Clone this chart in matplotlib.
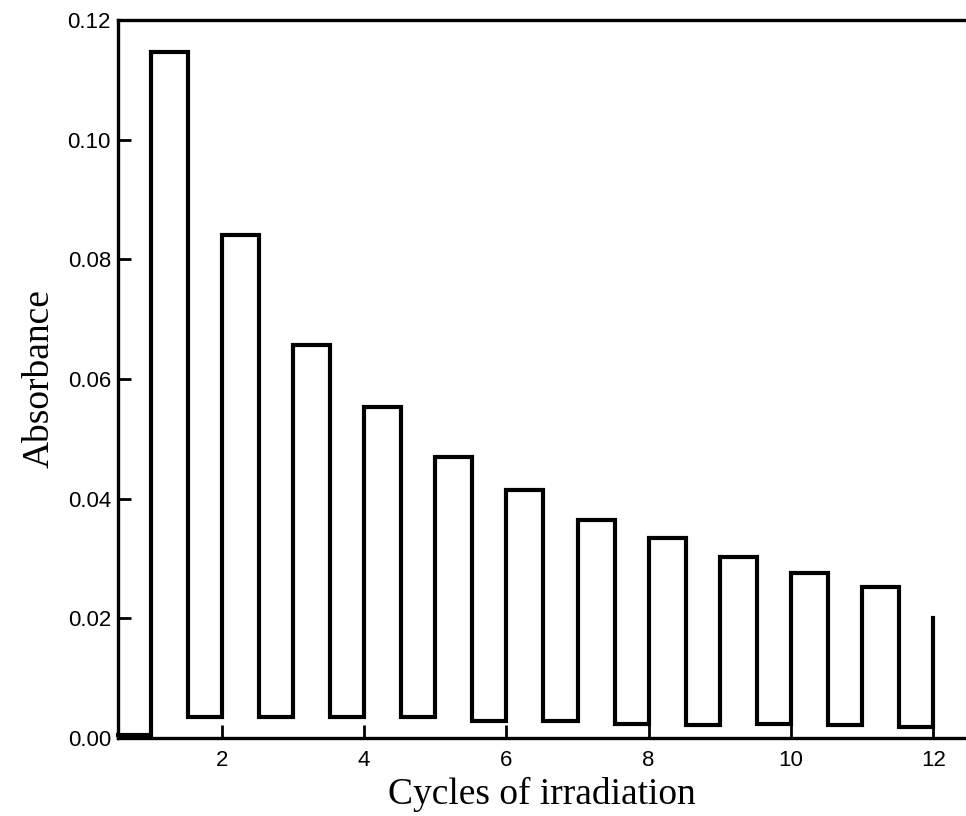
import matplotlib
matplotlib.use("Agg")
import matplotlib.pyplot as plt
import numpy as np

# Absorbance during alternating dark / irradiation phases
cycle_start = [1, 2, 3, 4, 5, 6, 7, 8, 9, 10, 11]
phase_len = 0.52
peak_abs = [0.1147, 0.0841, 0.0657, 0.0553, 0.0470, 0.0415,
            0.0364, 0.0334, 0.0303, 0.0276, 0.0252]
trough_abs = [0.0035, 0.0035, 0.0035, 0.0035, 0.0029, 0.0029,
              0.0024, 0.0022, 0.0024, 0.0022, 0.0018]
baseline_abs = 0.0005
final_start = 12
final_abs = 0.0200

x_ticks = [2, 4, 6, 8, 10, 12]
y_ticks = [0.00, 0.02, 0.04, 0.06, 0.08, 0.10, 0.12]
x_min, x_max = 0.54, 12.46

# step trace: baseline, then peak / trough for every cycle, then last rise
xs = [x_min]
ys = [baseline_abs]
for c, hi, lo in zip(cycle_start, peak_abs, trough_abs):
    xs += [c, c + phase_len]
    ys += [hi, lo]
xs.append(final_start)
ys.append(final_abs)

fig = plt.figure(figsize=(9.66, 8.16), dpi=100)
ax = fig.add_axes([0.122, 0.0956, 0.878, 0.8799])

ax.plot(xs, ys, drawstyle="steps-post", color="black", lw=3.0,
        solid_joinstyle="miter", clip_on=False)

ax.set_xlim(x_min, x_max)
ax.set_ylim(0, 0.12)
ax.set_xticks(x_ticks)
ax.set_yticks(y_ticks)
ax.set_yticklabels([f"{v:.2f}" for v in y_ticks])

for side in ("left", "bottom", "top"):
    ax.spines[side].set_linewidth(2.4)
ax.spines["right"].set_visible(False)

ax.tick_params(direction="in", length=9.5, width=2.0, labelsize=16)
ax.tick_params(axis="x", pad=9)
ax.tick_params(axis="y", pad=5)
for lab in ax.get_xticklabels() + ax.get_yticklabels():
    lab.set_fontfamily("Liberation Sans")

ax.set_xlabel("Cycles of irradiation", fontfamily="Liberation Serif",
              fontsize=27, labelpad=4)
ax.set_ylabel("Absorbance", fontfamily="Liberation Serif",
              fontsize=27, labelpad=8)

fig.savefig("out.png", dpi=100)
